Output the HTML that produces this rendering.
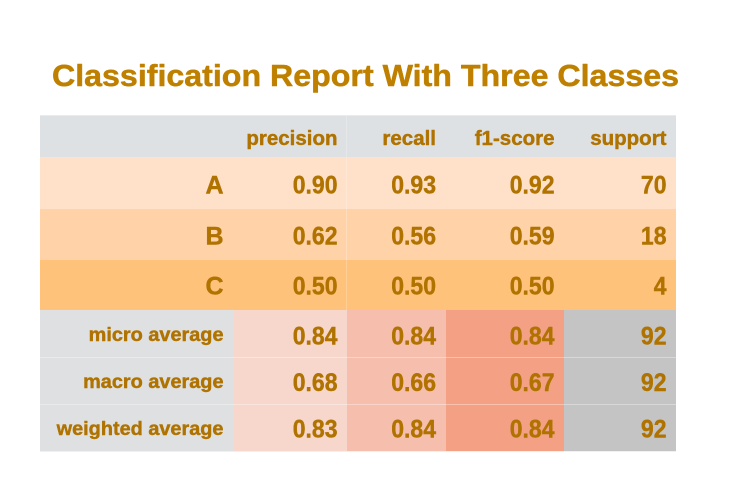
<!DOCTYPE html>
<html>
<head>
<meta charset="utf-8">
<style>
html,body{margin:0;padding:0;background:#fff;width:731px;height:488px;overflow:hidden}
svg{display:block}
text{font-family:"Liberation Sans",sans-serif;font-weight:700;text-anchor:end;stroke-linejoin:round}
</style>
</head>
<body>
<svg id="chart" width="731" height="488" viewBox="0 0 731 488" xmlns="http://www.w3.org/2000/svg">
<text x="52" y="86" font-size="31" fill="#bf8000" stroke="#bf8000" stroke-width="0.5" style="text-anchor:start" textLength="627" lengthAdjust="spacingAndGlyphs">Classification Report With Three Classes</text>
</svg>
<script>
const metricLabels = ['precision', 'recall', 'f1-score', 'support'];
const classLabels = ['A', 'B', 'C'];
const averageLabels = ['micro average', 'macro average', 'weighted average'];
const precisionValues = ['0.90', '0.62', '0.50', '0.84', '0.68', '0.83'];
const recallValues = ['0.93', '0.56', '0.50', '0.84', '0.66', '0.84'];
const f1Values = ['0.92', '0.59', '0.50', '0.84', '0.67', '0.84'];
const supportValues = ['70', '18', '4', '92', '92', '92'];

const svg = document.getElementById('chart');
const NS = 'http://www.w3.org/2000/svg';
const colEdges = [40, 234, 347, 446, 564, 676];
const rowEdges = [116, 157, 209, 260, 310, 357.5, 404.5, 451];
const colRight = [223.5, 337.5, 436, 554.5, 666.5];
const valueBase = [0, 193.5, 244.5, 294.5, 344.5, 391, 437.5];
const labelBase = [0, 193.5, 244.5, 294.5, 341, 388, 435];
const classFill = ['#ffe1c9', '#ffd2a8', '#ffc27a'];
const avgFill = ['#f7d6cc', '#f5bead', '#f3a085', '#c4c4c4'];
const valueColumns = [precisionValues, recallValues, f1Values, supportValues];

function addRect(x0, y0, x1, y1, fill) {
  const r = document.createElementNS(NS, 'rect');
  r.setAttribute('x', x0);
  r.setAttribute('y', y0);
  r.setAttribute('width', x1 - x0);
  r.setAttribute('height', y1 - y0);
  r.setAttribute('fill', fill);
  r.setAttribute('shape-rendering', 'crispEdges');
  svg.appendChild(r);
  return r;
}
function addText(str, x, y, size, sx, fill) {
  const t = document.createElementNS(NS, 'text');
  t.setAttribute('transform', 'translate(' + x + ',' + y + ') scale(' + sx + ',1)');
  t.setAttribute('font-size', size);
  t.setAttribute('fill', fill);
  t.setAttribute('stroke', fill);
  t.setAttribute('stroke-width', '0.45');
  t.textContent = str;
  svg.appendChild(t);
  return t;
}

// header band
const headerBand = addRect(40, 116, 676, 157, '#dee1e3');



// class rows
classLabels.forEach(function (label, i) {
  const band = addRect(40, rowEdges[i + 1], 676, rowEdges[i + 2], classFill[i]);
  
  
});

// average rows: first column plus metric columns
const avgLabelBand = addRect(40, rowEdges[4], 234, rowEdges[7], '#dee0e1');


avgFill.forEach(function (fill, c) {
  const band = addRect(colEdges[c + 1], rowEdges[4], colEdges[c + 2], rowEdges[7], fill);
  
  
});

// cell separators
[357, 404].forEach(function (y) {
  const line = addRect(40, y, 676, y + 1, 'rgba(255,255,255,0.35)');
  
  
});
const sepA = addRect(346, 116, 347, 310, 'rgba(255,255,255,0.22)');


const outline = addRect(40, 115, 676, 116, '#e9ebec');


const outlineBottom = addRect(40, 451, 676, 452, '#eff0f0');



// text
const ink = '#b07300';
metricLabels.forEach(function (label, c) {
  const t = addText(label, colRight[c + 1], 145, 20.5, 1.0, ink);
  
  
});
classLabels.forEach(function (label, i) {
  const t = addText(label, colRight[0], valueBase[i + 1], 25, 1, ink);
  
  
});
averageLabels.forEach(function (label, i) {
  const t = addText(label, colRight[0], labelBase[i + 4], 19.5, 1.02, ink);
  
  
});
valueColumns.forEach(function (values, c) {
  values.forEach(function (v, i) {
    const t = addText(v, colRight[c + 1], valueBase[i + 1], 25, 0.92, ink);
    
    
  });
});
</script>
</body>
</html>
